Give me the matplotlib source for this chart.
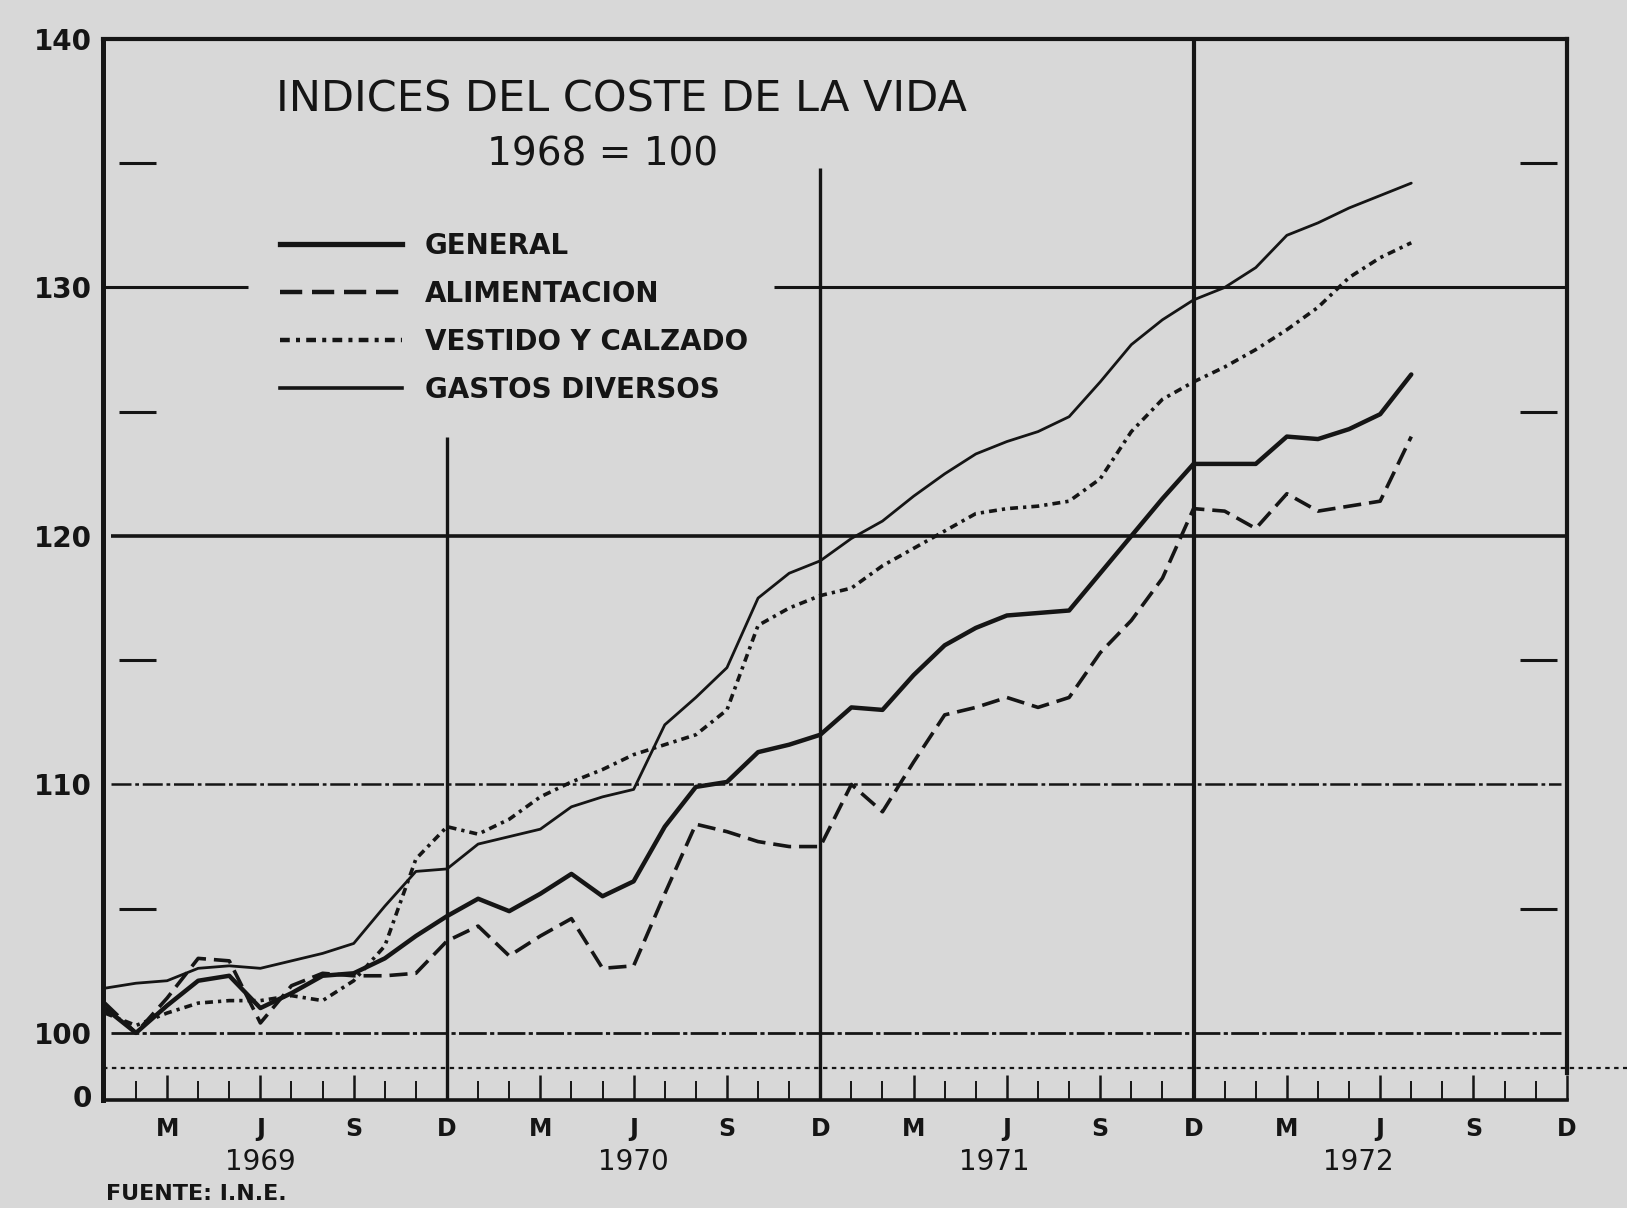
import matplotlib
matplotlib.use('Agg')
import matplotlib.pyplot as plt
from matplotlib.lines import Line2D
import numpy as np

# ---- data: monthly index values, Jan 1969 .. Jul 1972 (1968 = 100) ----
months = np.arange(43)
general = [101.0, 100.0, 101.1, 102.1, 102.3, 101.0, 101.6, 102.3, 102.4, 103.0, 103.9, 104.7,
           105.4, 104.9, 105.6, 106.4, 105.5, 106.1, 108.3, 109.9, 110.1, 111.3, 111.6, 112.0,
           113.1, 113.0, 114.4, 115.6, 116.3, 116.8, 116.9, 117.0, 118.5, 120.0, 121.5, 122.9,
           122.9, 122.9, 124.0, 123.9, 124.3, 124.9, 126.5]
alimentacion = [101.2, 100.0, 101.4, 103.0, 102.9, 100.4, 101.9, 102.4, 102.3, 102.3, 102.4, 103.7,
                104.3, 103.1, 103.9, 104.6, 102.6, 102.7, 105.6, 108.4, 108.1, 107.7, 107.5, 107.5,
                110.0, 108.9, 110.9, 112.8, 113.1, 113.5, 113.1, 113.5, 115.3, 116.6, 118.3, 121.1,
                121.0, 120.3, 121.7, 121.0, 121.2, 121.4, 124.0]
vestido = [100.8, 100.3, 100.8, 101.2, 101.3, 101.3, 101.5, 101.3, 102.1, 103.5, 107.0, 108.3,
           108.0, 108.6, 109.5, 110.1, 110.6, 111.2, 111.6, 112.0, 113.0, 116.4, 117.1, 117.6,
           117.9, 118.8, 119.5, 120.2, 120.9, 121.1, 121.2, 121.4, 122.3, 124.2, 125.5, 126.2,
           126.8, 127.5, 128.3, 129.2, 130.4, 131.2, 131.8]
gastos = [101.8, 102.0, 102.1, 102.6, 102.7, 102.6, 102.9, 103.2, 103.6, 105.1, 106.5, 106.6,
          107.6, 107.9, 108.2, 109.1, 109.5, 109.8, 112.4, 113.5, 114.7, 117.5, 118.5, 119.0,
          119.9, 120.6, 121.6, 122.5, 123.3, 123.8, 124.2, 124.8, 126.2, 127.7, 128.7, 129.5,
          130.0, 130.8, 132.1, 132.6, 133.2, 133.7, 134.2]

series_labels = ['GENERAL', 'ALIMENTACION', 'VESTIDO Y CALZADO', 'GASTOS DIVERSOS']
month_tick_pos = list(range(2, 48, 3))
month_tick_labels = ['M', 'J', 'S', 'D'] * 4
year_labels = ['1969', '1970', '1971', '1972']
year_pos = [5.0, 17.0, 28.6, 40.3]
ytick_pos = [97.45, 100, 110, 120, 130, 140]
ytick_labels = ['0', '100', '110', '120', '130', '140']

# ---- style ----
bg = '#d8d8d8'
ink = '#151515'
plt.rcParams['font.family'] = ['DejaVu Sans']

fig = plt.figure(figsize=(16.27, 12.08), dpi=100)
fig.patch.set_facecolor(bg)
ax = fig.add_axes([0.0633, 0.0894, 0.8997, 0.8783])
ax.set_facecolor(bg)
ax.set_xlim(-0.06, 47.0)
ax.set_ylim(97.3, 140.0)

styles = {
    'GENERAL': dict(lw=3.2, ls='-'),
    'ALIMENTACION': dict(lw=2.6, ls=(0, (5.0, 2.2))),
    'VESTIDO Y CALZADO': dict(lw=2.6, ls=(0, (2.2, 1.4, 0.9, 1.4))),
    'GASTOS DIVERSOS': dict(lw=2.0, ls='-'),
}

# grid / frame elements
ax.hlines(130, -0.06, 4.6, color=ink, lw=2.2)
ax.hlines(130, 21.5, 47.0, color=ink, lw=2.2)
ax.hlines(120, 0.2, 47.0, color=ink, lw=2.6)
ax.hlines(110, 0.2, 46.8, color=ink, lw=1.8, linestyles=(0, (8, 1.5, 1.5, 1.5)))
ax.hlines(100, 0.2, 46.8, color=ink, lw=2.0, linestyles=(0, (10, 1.2, 1.5, 1.2)))
ax.vlines(11, 97.3, 124.0, color=ink, lw=2.4)
ax.vlines(23, 97.3, 134.8, color=ink, lw=2.4)
ax.vlines(35, 97.3, 140.0, color=ink, lw=3.0)
for v in [105, 115, 125, 135]:
    ax.hlines(v, 0.45, 1.65, color=ink, lw=2.2)
    ax.hlines(v, 45.5, 46.7, color=ink, lw=2.2)
# axis break line
ax.axhline(98.6, xmin=0, xmax=1.045, color=ink, lw=1.6, ls=(0, (2, 2)), clip_on=False)

# data lines
data = [general, alimentacion, vestido, gastos]
handles = []
for lab, vals in zip(series_labels, data):
    st = styles[lab]
    ax.plot(months, vals, color=ink, lw=st['lw'], ls=st['ls'],
            solid_capstyle='round', dash_capstyle='butt', zorder=5)
    handles.append(Line2D([0], [0], color=ink, lw=st['lw'] + 0.6, ls=st['ls']))

leg = ax.legend(handles, series_labels, loc='upper left', bbox_to_anchor=(0.121, 0.818),
                frameon=False, borderpad=0, borderaxespad=0, handlelength=4.4,
                handletextpad=0.8, labelspacing=0.72,
                prop=dict(family='DejaVu Sans', weight='bold', size=20))
for t in leg.get_texts():
    t.set_color(ink)

# spines
for side in ['left', 'top', 'right', 'bottom']:
    ax.spines[side].set_color(ink)
ax.spines['left'].set_linewidth(3.6)
ax.spines['top'].set_linewidth(3.0)
ax.spines['right'].set_linewidth(3.0)
ax.spines['right'].set_bounds(98.4, 140.0)
ax.spines['bottom'].set_linewidth(2.6)

# ticks
ax.set_xticks(month_tick_pos)
ax.set_xticklabels(month_tick_labels, fontsize=17, fontweight='bold', color=ink)
ax.set_xticks(np.arange(0, 48), minor=True)
ax.tick_params(axis='x', which='major', direction='in', length=18, width=1.8, color=ink, pad=12)
ax.tick_params(axis='x', which='minor', direction='in', length=14, width=1.4, color=ink)
ax.set_yticks(ytick_pos)
ax.set_yticklabels(ytick_labels, fontsize=20, fontweight='bold', color=ink)
ax.tick_params(axis='y', length=0, pad=8)

# year labels and source
xt = ax.get_xaxis_transform()
for lab, p in zip(year_labels, year_pos):
    ax.text(p, -0.058, lab, transform=xt, ha='center', va='center', fontsize=20, color=ink)
fig.text(0.065, 0.003, 'FUENTE: I.N.E.', ha='left', va='bottom', fontsize=16,
         fontweight='bold', color=ink)

# title
ax.text(0.3545, 0.943, 'INDICES DEL COSTE DE LA VIDA', transform=ax.transAxes,
        ha='center', va='center', fontsize=31, color=ink)
ax.text(0.341, 0.8916, '1968 = 100', transform=ax.transAxes,
        ha='center', va='center', fontsize=28, color=ink)

fig.savefig('out.png', dpi=100, facecolor=bg)
